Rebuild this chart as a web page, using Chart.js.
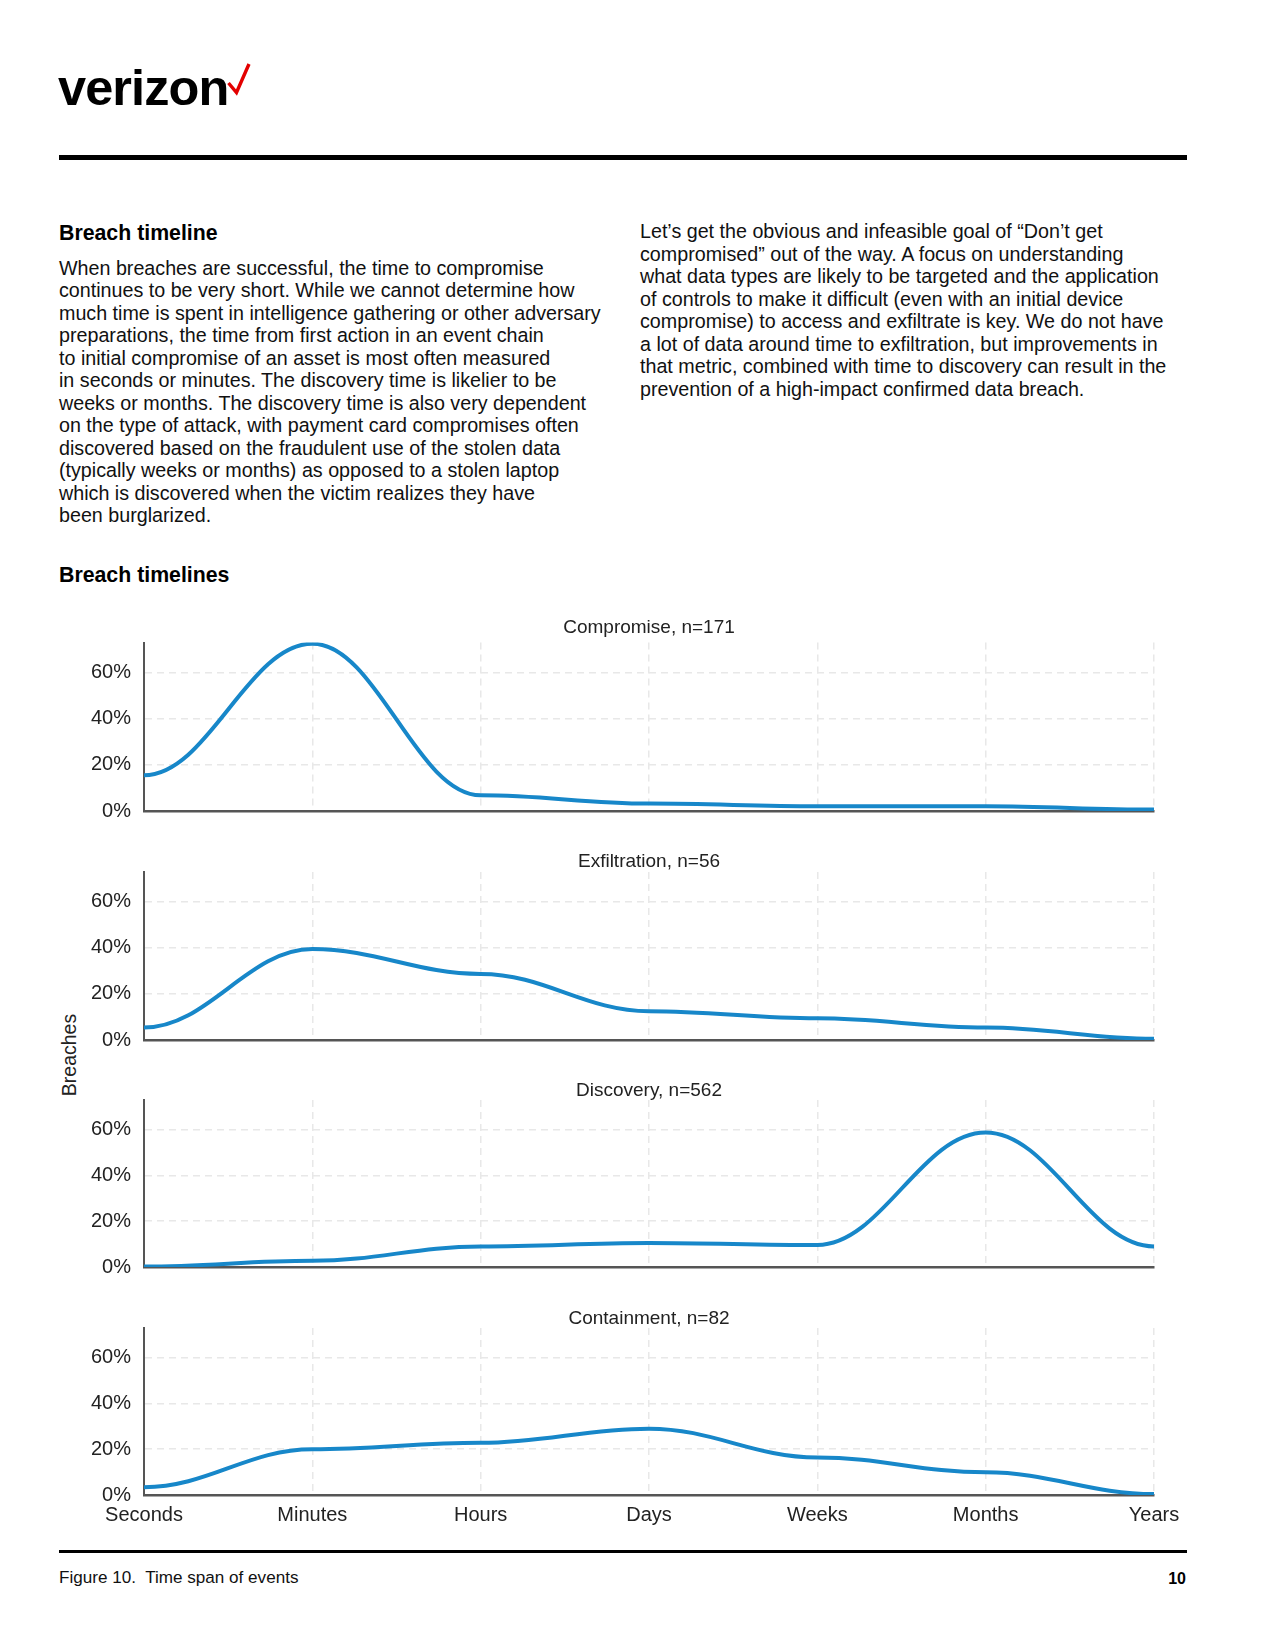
<!DOCTYPE html>
<html>
<head>
<meta charset="utf-8">
<title>Breach timelines</title>
<script src="https://cdn.jsdelivr.net/npm/chart.js@4.4.1/dist/chart.umd.min.js"></script>
<style>
  html, body { margin: 0; padding: 0; background: #fff; }
  body { width: 1275px; height: 1650px; position: relative; overflow: hidden;
         font-family: 'Liberation Sans', Arial, sans-serif; color: #111; }
  .logo { position: absolute; left: 58px; top: 58px; font-weight: bold; font-size: 50.5px;
          letter-spacing: -0.9px; line-height: 60px; color: #000; }
  .check { position: absolute; left: 0; top: 0; }
  .rule { position: absolute; left: 59px; width: 1128px; background: #000; }
  .head { position: absolute; left: 59px; font-weight: bold; font-size: 21.3px; line-height: 24px; color: #000; }
  .body { position: absolute; font-size: 19.7px; line-height: 22.5px; white-space: nowrap; color: #111; }
  .ylab { position: absolute; left: 69px; top: 1055px; font-size: 19.5px; color: #222;
          transform: translate(-50%, -50%) rotate(-90deg); white-space: nowrap; }
  .caption { position: absolute; left: 59px; top: 1568px; font-size: 17.1px; line-height: 20px; white-space: pre; color: #111; }
  .page { position: absolute; right: 89px; top: 1569px; font-size: 16px; font-weight: bold; line-height: 20px; color: #000; }
  canvas { position: absolute; }
</style>
</head>
<body>
<div class="logo">verizon</div>
<svg class="check" width="1275" height="140">
  <polyline points="228.5,83 236.5,92.5 249,64" fill="none" stroke="#e30000" stroke-width="3.4" stroke-linejoin="miter"/>
</svg>
<div class="rule" style="top:155px;height:5px"></div>

<div class="head" style="top:220.5px">Breach timeline</div>
<div class="body" style="left:59px;top:256.75px">
When breaches are successful, the time to compromise<br>
continues to be very short. While we cannot determine how<br>
much time is spent in intelligence gathering or other adversary<br>
preparations, the time from first action in an event chain<br>
to initial compromise of an asset is most often measured<br>
in seconds or minutes. The discovery time is likelier to be<br>
weeks or months. The discovery time is also very dependent<br>
on the type of attack, with payment card compromises often<br>
discovered based on the fraudulent use of the stolen data<br>
(typically weeks or months) as opposed to a stolen laptop<br>
which is discovered when the victim realizes they have<br>
been burglarized.
</div>
<div class="body" style="left:640px;top:220.25px">
Let’s get the obvious and infeasible goal of “Don’t get<br>
compromised” out of the way. A focus on understanding<br>
what data types are likely to be targeted and the application<br>
of controls to make it difficult (even with an initial device<br>
compromise) to access and exfiltrate is key. We do not have<br>
a lot of data around time to exfiltration, but improvements in<br>
that metric, combined with time to discovery can result in the<br>
prevention of a high-impact confirmed data breach.
</div>

<div class="head" style="top:562.5px">Breach timelines</div>
<div class="ylab">Breaches</div>

<div id="panels"></div>

<div class="rule" style="top:1550px;height:3px"></div>
<div class="caption">Figure 10.  Time span of events</div>
<div class="page">10</div>

<script>
// categories and values (share of breaches, %)
const timeUnits = ['Seconds', 'Minutes', 'Hours', 'Days', 'Weeks', 'Months', 'Years'];
const compromise = [15.5, 72.5, 6.8, 3.2, 2.1, 2.1, 0.6];
const exfiltration = [5.4, 39.5, 28.7, 12.5, 9.4, 5.4, 0.5];
const discovery = [0.2, 2.7, 9.0, 10.5, 9.6, 58.8, 9.0];
const containment = [3.4, 20.0, 22.8, 29.0, 16.4, 9.9, 0.4];
const panelTitles = ['Compromise, n=171', 'Exfiltration, n=56', 'Discovery, n=562', 'Containment, n=82'];
const yTicks = [0, 20, 40, 60];
const yMax = 73;

const panelSeries = [compromise, exfiltration, discovery, containment];

// page geometry
const canvasLeft = 40, canvasRight = 1210;
const plotLeft = 144, plotRight = 1154, plotHeight = 168;
const plotTops = [642, 871, 1099, 1327];
const titleGaps = [5.5, 0.5, 0, 0];   // space under each panel title
const titleFont = 19;

Chart.defaults.font.family = "'Liberation Sans', Arial, sans-serif";
Chart.defaults.color = '#222';

// smooth each segment with flat tangents at the data points
const flatTangents = {
    id: 'flatTangents',
    beforeDatasetDraw(chart, args) {
        const pts = args.meta.data;
        for (let i = 0; i < pts.length; i++) {
            const p = pts[i];
            const prev = pts[i - 1];
            const next = pts[i + 1];
            p.cp1x = prev ? p.x - (p.x - prev.x) * 0.38 : p.x;
            p.cp1y = p.y;
            p.cp2x = next ? p.x + (next.x - p.x) * 0.38 : p.x;
            p.cp2y = p.y;
        }
        args.meta.dataset._pointsUpdated = true;
    }
};

const gridColor = '#e8e8e8';
const clear = 'rgba(0,0,0,0)';

panelSeries.forEach((series, i) => {
    const isLast = i === panelSeries.length - 1;
    const xAxisH = isLast ? 44 : 0;
    const padBottom = isLast ? 2 : 14;
    const bottomGap = isLast ? xAxisH + padBottom : 25;
    const titleBox = 5 + titleFont + titleGaps[i];
    const top = plotTops[i] - titleBox;

    const canvas = document.createElement('canvas');
    canvas.width = canvasRight - canvasLeft;
    canvas.height = Math.round(titleBox + plotHeight + bottomGap);
    canvas.style.left = canvasLeft + 'px';
    canvas.style.top = top + 'px';
    document.getElementById('panels').appendChild(canvas);

    new Chart(canvas, {
        type: 'line',
        data: {
            labels: timeUnits,
            datasets: [{
                data: series,
                borderColor: '#1787c9',
                borderWidth: 4,
                pointRadius: 0,
                tension: 0.4,
                fill: false
            }]
        },
        options: {
            responsive: false,
            animation: false,
            events: [],
            layout: { padding: { left: 0, right: canvasRight - plotRight, top: 0, bottom: padBottom } },
            plugins: {
                legend: { display: false },
                tooltip: { enabled: false },
                title: {
                    display: true,
                    text: panelTitles[i],
                    fullSize: false,
                    color: '#222',
                    font: { size: titleFont, weight: 'normal', lineHeight: 1 },
                    padding: { top: 5, bottom: titleGaps[i] }
                }
            },
            scales: {
                x: {
                    grid: { color: ctx => ctx.index === 0 ? clear : gridColor, lineWidth: 1.5, drawTicks: false },
                    border: { color: '#555', width: 2.5, dash: [7, 5] },
                    ticks: { display: isLast, autoSkip: false, maxRotation: 0, padding: 8, color: '#222', font: { size: 20 } },
                    afterFit: s => { s.height = xAxisH; }
                },
                y: {
                    min: 0,
                    max: yMax,
                    afterFit: s => { s.width = plotLeft - canvasLeft; },
                    afterBuildTicks: s => { s.ticks = yTicks.map(v => ({ value: v })); },
                    grid: { color: ctx => (ctx.tick && ctx.tick.value === 0) ? clear : gridColor, lineWidth: 1.5, drawTicks: false },
                    border: { color: '#555', width: 2, dash: [7, 5] },
                    ticks: { padding: 13, color: '#222', font: { size: 20 }, callback: v => v + '%' }
                }
            }
        },
        plugins: [flatTangents]
    });
});
</script>
</body>
</html>
